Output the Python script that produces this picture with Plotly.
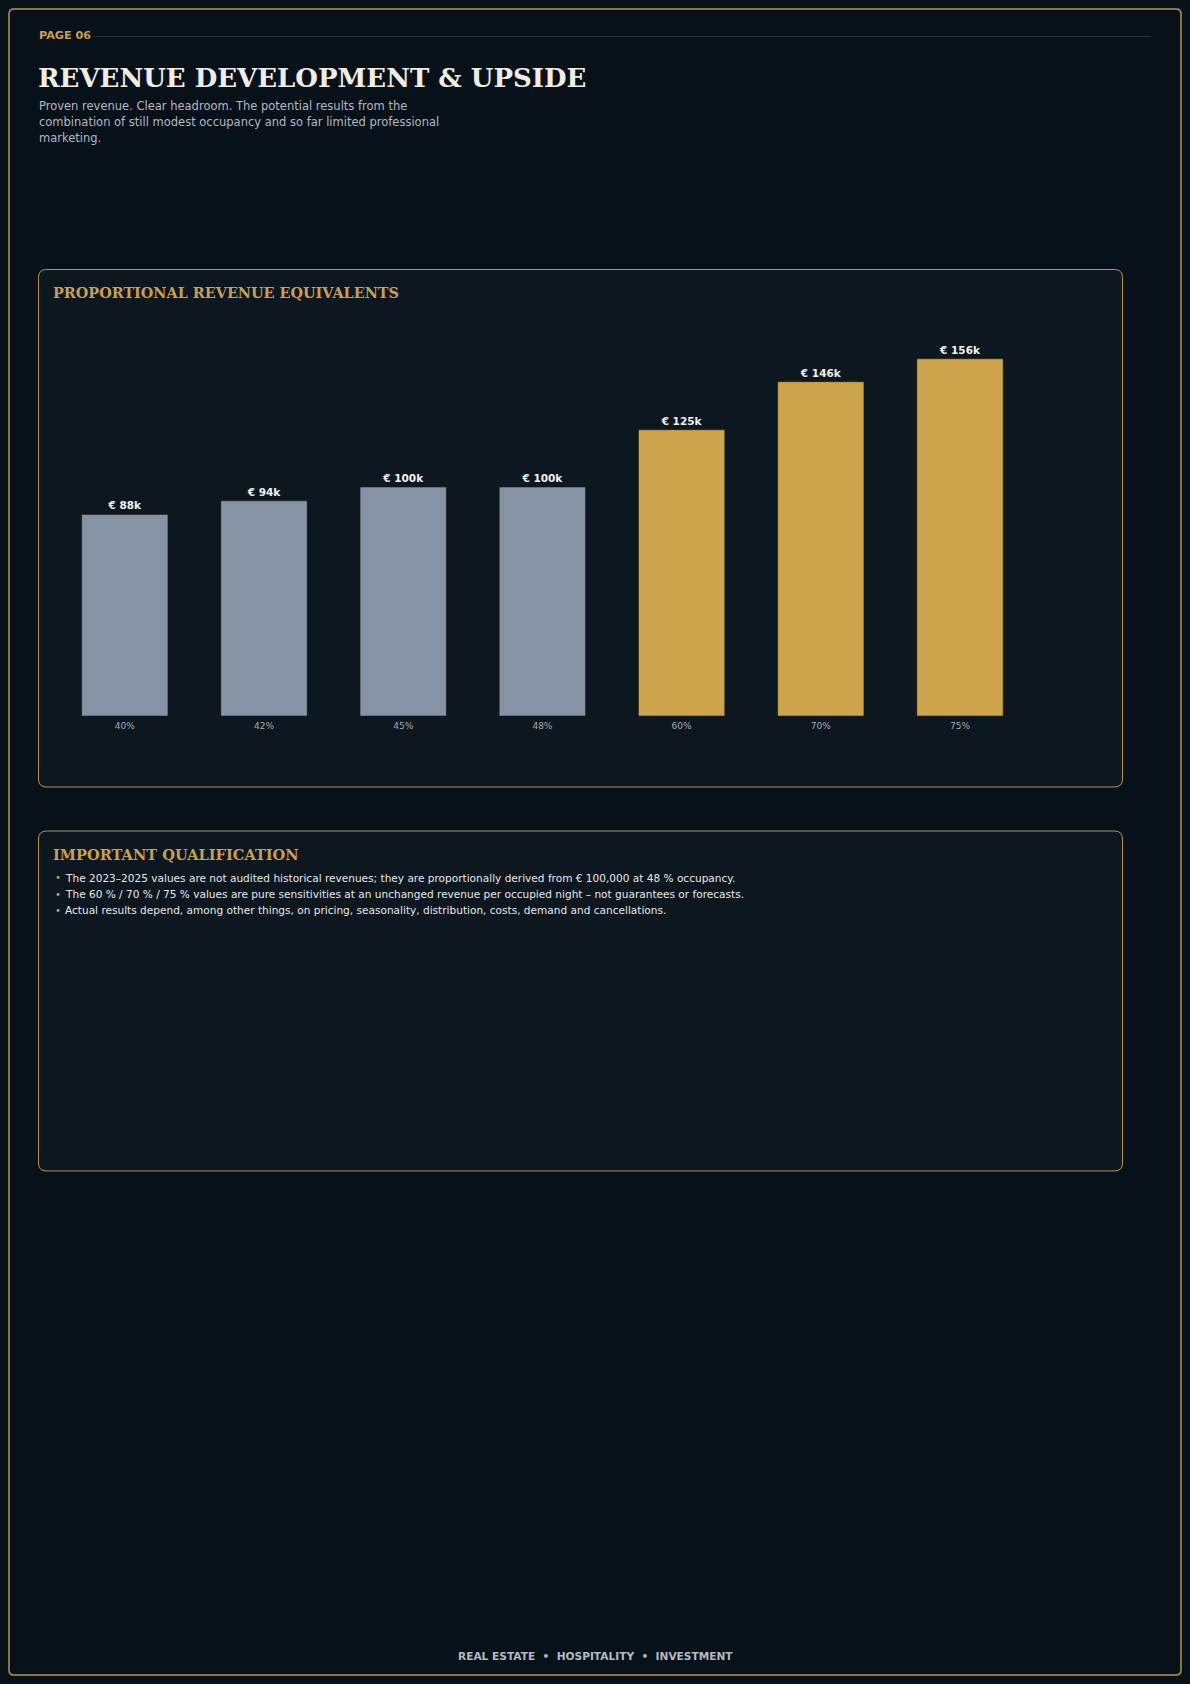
import plotly.graph_objects as go

W, H = 1190, 1684

# ---------------- data ----------------
occupancy = ["40%", "42%", "45%", "48%", "60%", "70%", "75%"]
revenue_k = [88, 94, 100, 100, 125, 146, 156]
scenario = ["derived", "derived", "derived", "derived", "sensitivity", "sensitivity", "sensitivity"]

page_label = "PAGE 06"
title = "REVENUE DEVELOPMENT & UPSIDE"
subtitle_lines = [
    "Proven revenue. Clear headroom. The potential results from the",
    "combination of still modest occupancy and so far limited professional",
    "marketing.",
]
chart_title = "PROPORTIONAL REVENUE EQUIVALENTS"
note_title = "IMPORTANT QUALIFICATION"
notes = [
    "The 2023–2025 values are not audited historical revenues; they are proportionally derived from € 100,000 at 48 % occupancy.",
    "The 60 % / 70 % / 75 % values are pure sensitivities at an unchanged revenue per occupied night – not guarantees or forecasts.",
    "Actual results depend, among other things, on pricing, seasonality, distribution, costs, demand and cancellations.",
]
footer = "REAL ESTATE  •  HOSPITALITY  •  INVESTMENT"

# ---------------- style ----------------
BG = "#07111a"
PANEL = "#0d1720"
GOLD = "#c9a050"
BORDER = "#b8964f"
GRAY_BAR = "#8593a5"
GOLD_BAR = "#cda34c"
SANS = "DejaVu Sans"
SERIF = "DejaVu Serif"
color_map = {"derived": GRAY_BAR, "sensitivity": GOLD_BAR}


def fx(x):
    return x / W


def fy(y):
    return 1 - y / H


def rrect(x0, y0, x1, y1, r):
    def p(x, y):
        return f"{fx(x):.6f},{fy(y):.6f}"
    return (
        f"M {p(x0 + r, y0)} L {p(x1 - r, y0)} Q {p(x1, y0)} {p(x1, y0 + r)} "
        f"L {p(x1, y1 - r)} Q {p(x1, y1)} {p(x1 - r, y1)} "
        f"L {p(x0 + r, y1)} Q {p(x0, y1)} {p(x0, y1 - r)} "
        f"L {p(x0, y0 + r)} Q {p(x0, y0)} {p(x0 + r, y0)} Z"
    )


fig = go.Figure()
fig.add_trace(go.Bar(
    x=occupancy,
    y=revenue_k,
    marker=dict(color=[color_map[s] for s in scenario],
                line=dict(color="rgba(30,25,10,0.55)", width=1)),
    texttemplate="€ %{y:.0f}k",
    textposition="outside",
    textfont=dict(family=SANS, size=10.5, color="#f2f2f2", weight="bold"),
    cliponaxis=False,
    hoverinfo="skip",
    showlegend=False,
))

shapes = [
    dict(type="path", path=rrect(9, 9, 1181, 1675, 5), xref="paper", yref="paper",
         line=dict(color=BORDER, width=1.5), fillcolor="rgba(0,0,0,0)", layer="below"),
    dict(type="line", x0=fx(93), x1=fx(1151), y0=fy(36.5), y1=fy(36.5), xref="paper", yref="paper",
         line=dict(color="#25303b", width=1), layer="below"),
    dict(type="path", path=rrect(38.5, 269.5, 1122.5, 787, 8), xref="paper", yref="paper",
         line=dict(color=BORDER, width=1), fillcolor=PANEL, layer="below"),
    dict(type="path", path=rrect(38.5, 831, 1122.5, 1171, 8), xref="paper", yref="paper",
         line=dict(color=BORDER, width=1), fillcolor=PANEL, layer="below"),
]

ann = []


def text(x, y, s, size, color, family=SANS, bold=False, xanchor="left"):
    ann.append(dict(x=fx(x), y=fy(y), xref="paper", yref="paper", text=s, showarrow=False,
                    xanchor=xanchor, yanchor="middle", align="left",
                    font=dict(family=family, size=size, color=color,
                              weight="bold" if bold else "normal")))


text(36.5, 36, page_label, 11.2, GOLD, bold=True)
text(36, 78, title, 26, "#f1ede5", family=SERIF, bold=True)
for i, line in enumerate(subtitle_lines):
    text(36.5, 106 + 16.2 * i, line, 11.5, "#b4b9c1")
text(51, 292, chart_title, 14.4, GOLD, family=SERIF, bold=True)
text(51, 854, note_title, 14.6, GOLD, family=SERIF, bold=True)
for i, n in enumerate(notes):
    text(52.5, 878 + 16.1 * i, "•", 10, GOLD)
    text(62.5, 878 + 16.1 * i, n, 10.55, "#e8e8e8")
text(595, 1656, footer, 10.6, "#b3bac3", bold=True, xanchor="center")

fig.update_layout(
    width=W, height=H,
    margin=dict(l=0, r=0, t=0, b=0),
    paper_bgcolor=BG,
    plot_bgcolor="rgba(0,0,0,0)",
    bargap=0.38,
    shapes=shapes,
    annotations=ann,
    xaxis=dict(domain=[fx(55.2), fx(1029.6)], anchor="y", showgrid=False, zeroline=False,
               showline=False, ticks="", tickfont=dict(family=SANS, size=9, color="#a3abb5"),
               ticklabelstandoff=3, fixedrange=True),
    yaxis=dict(domain=[fy(716), fy(330)], range=[0, (716 - 330) / 2.29], visible=False,
               showgrid=False, zeroline=False, fixedrange=True),
)

fig.write_html("out.html", config={"displayModeBar": False},
               post_script="document.body.style.margin='0';document.body.style.background='#07111a';")
